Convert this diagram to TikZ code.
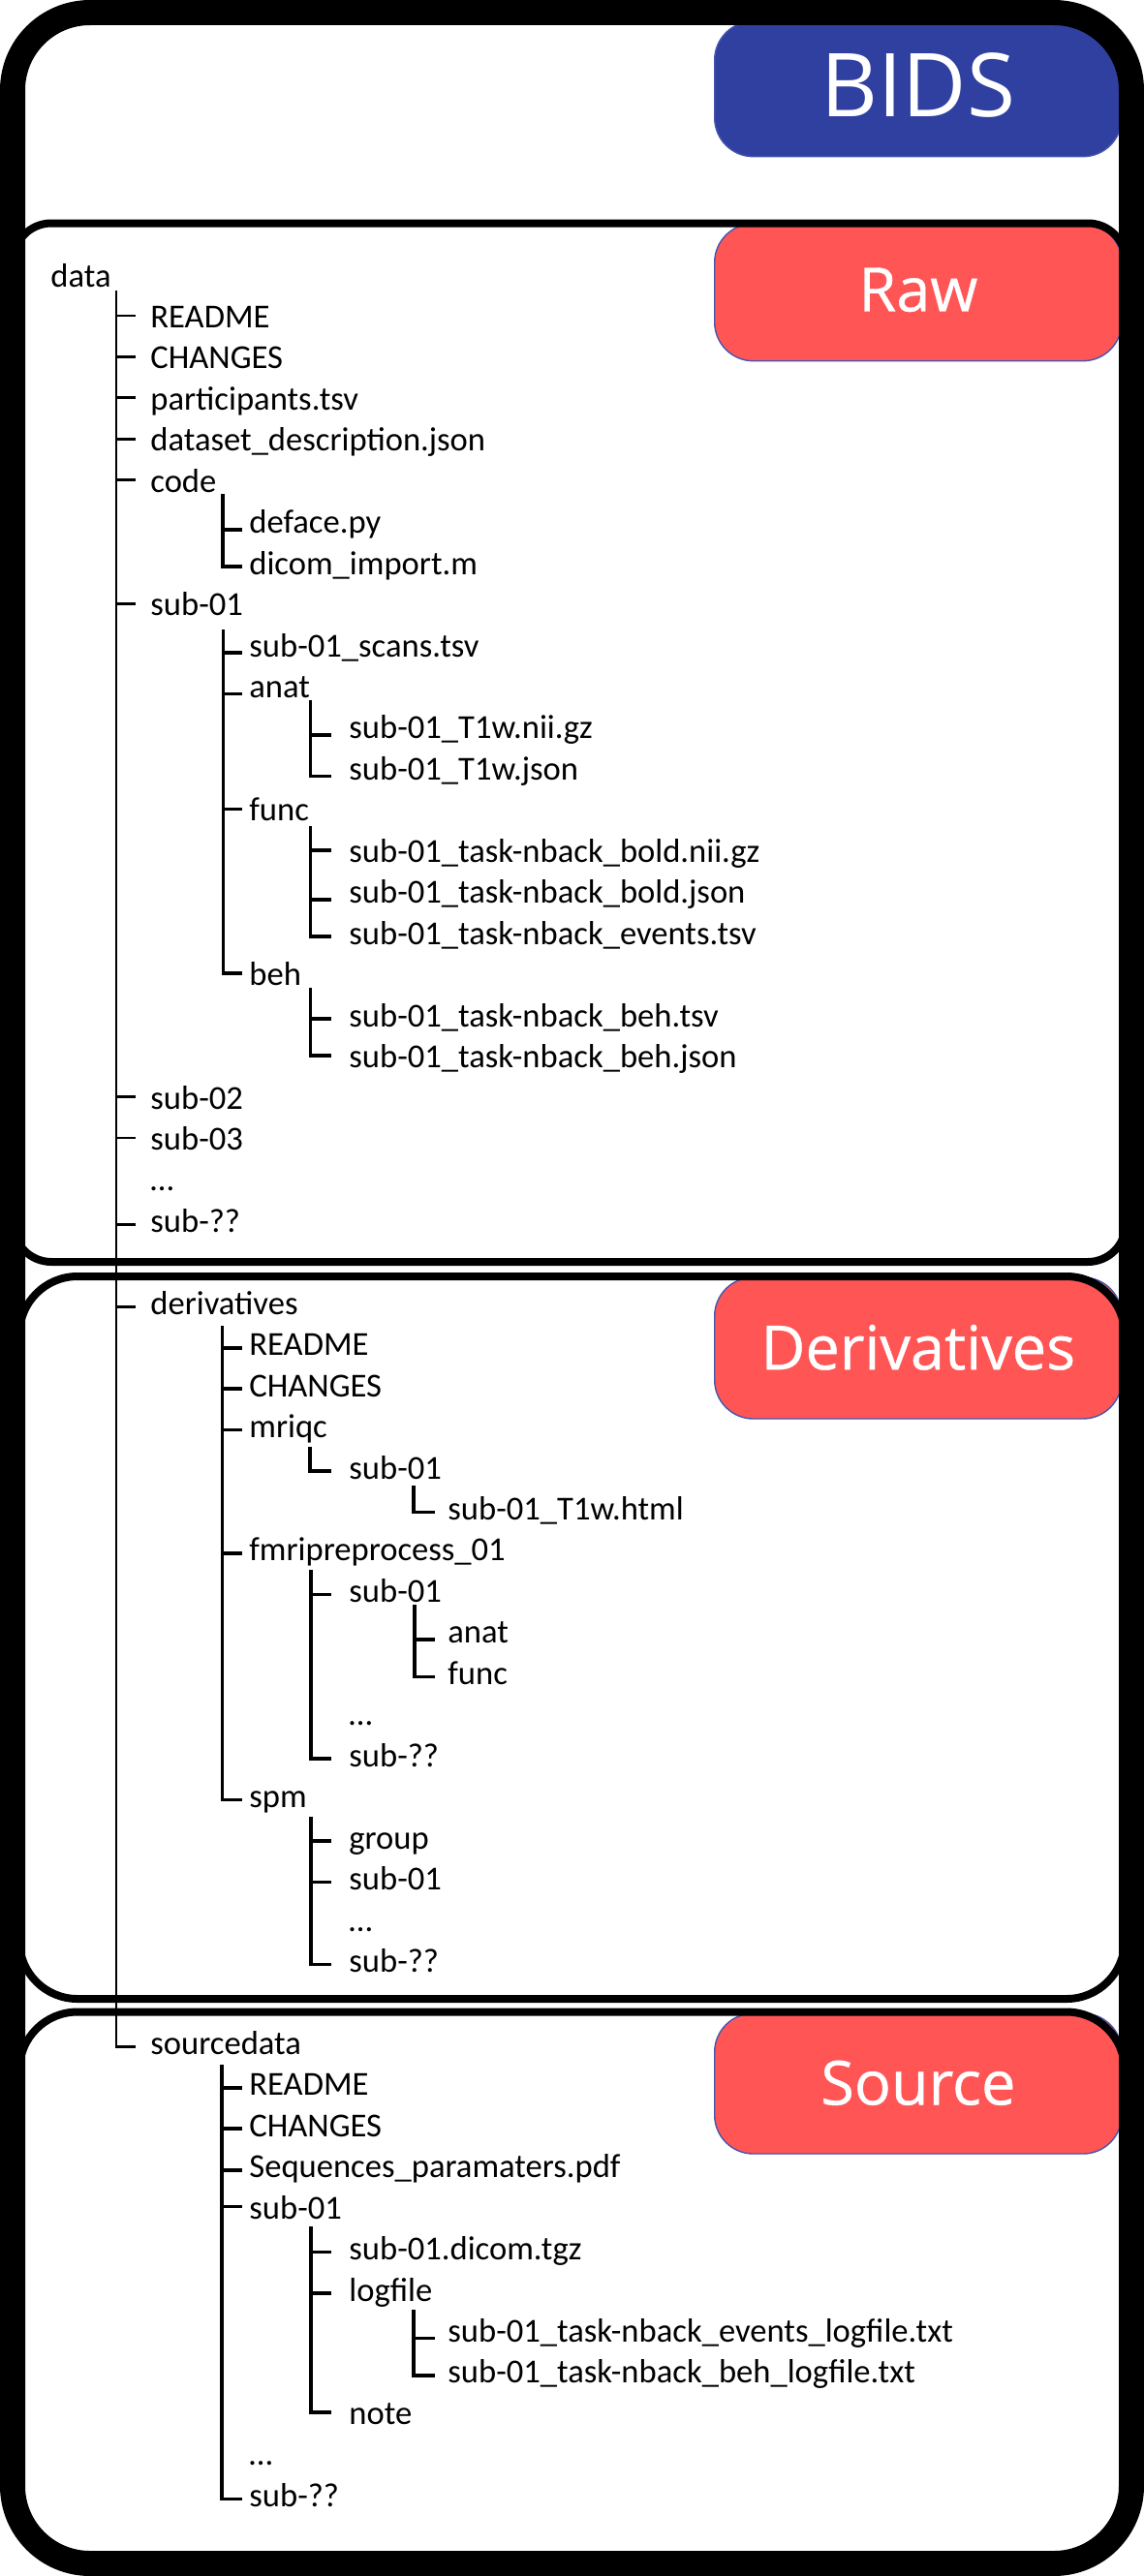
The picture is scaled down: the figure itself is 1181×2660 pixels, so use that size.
\documentclass[tikz,border=0pt]{standalone}
\usepackage{fontspec}
\setmainfont{Carlito}
\newfontfamily\labelfont{Open Sans}
\newfontfamily\labelboldfont[FakeBold=0.6]{Open Sans}
\definecolor{bidsblue}{RGB}{48,64,160}
\definecolor{rawred}{RGB}{255,85,85}
\definecolor{labline}{RGB}{70,85,175}
\newcommand\ent[5][]{\node[item,#1] (#2) at (#3,{296+42.45*#4}) {#5};}
\newcommand\kids[4]{%
  \draw[tree] (#1) |- ([xshift=-#2]#3.west);
  \foreach \c in {#4}{\draw[tree] (#1 |- \c.west) -- ([xshift=-#2]\c.west);}%
}
\begin{document}
\begin{tikzpicture}[x=0.5pt,y=-0.5pt,
  item/.style={anchor=base west, inner sep=0pt, font=\fontsize{17.3pt}{20pt}\selectfont, text height=8pt, text depth=0pt},
  hi/.style={text height=12.5pt},
  lo/.style={text height=4pt},
  tree/.style={line width=1.8pt},
  trunk/.style={line width=1.4pt},
  lab/.style={rectangle, rounded corners=20pt, inner sep=0pt, draw=labline, line width=0.7pt, text=white, minimum width=210.15pt, font=\labelboldfont\fontsize{31.5pt}{36pt}\selectfont},
  sect/.style={draw=black, line width=4pt},
  outerframe/.style={draw=black, line width=13pt, rounded corners=40pt}]
\useasboundingbox (0,0) rectangle (1181,2660);
\fill[white] (0,0) rectangle (1181,2660);

% section labels
\node[lab, fill=bidsblue, minimum height=69.85pt, font=\labelfont\fontsize{45.5pt}{50pt}\selectfont, text depth=4.4pt] (bids) at (947.85,91.85) {BIDS};
\node[lab, fill=rawred, minimum height=70.85pt, text depth=2.85pt] (raw) at (947.85,301.85) {Raw};
\node[lab, fill=rawred, minimum height=73pt, text depth=1pt] (derivlab) at (947.85,1392) {Derivatives};
\node[lab, fill=rawred, minimum height=72.5pt, text depth=1pt] (sourcelab) at (947.85,2151.5) {Source};

% section borders
\draw[sect, rounded corners=19.5pt] (14,230.5) rectangle (1162,1303);
\draw[sect, rounded corners=30pt] (20,1318) rectangle (1161,2064);
\draw[sect, rounded corners=30pt] (20,2077.5) rectangle (1161,2642);

% outer frame
\draw[outerframe] (13,13) rectangle (1168,2647);

% tree entries
\ent{data}{52}{0}{data}
\ent[hi]{r1}{155}{1}{README}
\ent[hi]{r2}{155}{2}{CHANGES}
\ent[hi]{r3}{155}{3}{participants.tsv}
\ent[hi]{r4}{155}{4}{dataset\_description.json}
\ent[hi]{code}{155}{5}{code}
\ent[lo]{deface}{257}{6}{deface.py}
\ent{dicom}{257}{7}{dicom\_import.m}
\ent[hi]{sub01}{155}{8}{sub-01}
\ent[lo]{scans}{257}{9}{sub-01\_scans.tsv}
\ent[lo]{anat}{257}{10}{anat}
\ent[lo]{t1nii}{360}{11}{sub-01\_T1w.nii.gz}
\ent[lo]{t1json}{360}{12}{sub-01\_T1w.json}
\ent[hi]{func}{257}{13}{func}
\ent[hi]{boldnii}{360}{14}{sub-01\_task-nback\_bold.nii.gz}
\ent[lo]{boldjson}{360}{15}{sub-01\_task-nback\_bold.json}
\ent{events}{360}{16}{sub-01\_task-nback\_events.tsv}
\ent[hi]{beh}{257}{17}{beh}
\ent{behtsv}{360}{18}{sub-01\_task-nback\_beh.tsv}
\ent[hi]{behjson}{360}{19}{sub-01\_task-nback\_beh.json}
\ent[hi]{sub02}{155}{20}{sub-02}
\ent[hi]{sub03}{155}{21}{sub-03}
\ent{rdots}{155}{22}{…}
\ent{rsubq}{155}{23}{sub-??}
\ent{deriv}{155}{25}{derivatives}
\ent{dreadme}{257}{26}{README}
\ent{dchanges}{257}{27}{CHANGES}
\ent{mriqc}{257}{28}{mriqc}
\ent{msub}{360}{29}{sub-01}
\ent{mhtml}{462}{30}{sub-01\_T1w.html}
\ent{fmri}{257}{31}{fmripreprocess\_01}
\ent{fsub}{360}{32}{sub-01}
\ent[lo]{fanat}{462}{33}{anat}
\ent{ffunc}{462}{34}{func}
\ent{fdots}{360}{35}{…}
\ent{fsubq}{360}{36}{sub-??}
\ent{spm}{257}{37}{spm}
\ent{sgroup}{360}{38}{group}
\ent{ssub}{360}{39}{sub-01}
\ent{sdots}{360}{40}{…}
\ent{ssubq}{360}{41}{sub-??}
\ent{src}{155}{43}{sourcedata}
\ent{sreadme}{257}{44}{README}
\ent{schanges}{257}{45}{CHANGES}
\ent{sseq}{257}{46}{Sequences\_paramaters.pdf}
\ent[hi]{ssub01}{257}{47}{sub-01}
\ent{sdicom}{360}{48}{sub-01.dicom.tgz}
\ent{slog}{360}{49}{logfile}
\ent[lo]{slogev}{462}{50}{sub-01\_task-nback\_events\_logfile.txt}
\ent{slogbeh}{462}{51}{sub-01\_task-nback\_beh\_logfile.txt}
\ent[hi]{snote}{360}{52}{note}
\ent{srdots}{257}{53}{…}
\ent{srsubq}{257}{54}{sub-??}

% branch tops
\coordinate (mainT) at (120,300);
\coordinate (codeT) at (230,510);
\coordinate (sub01T) at (230.5,650);
\coordinate (anatT) at (320.5,723);
\coordinate (funcT) at (320.5,853);
\coordinate (behT) at (320.5,1020);
\coordinate (derivT) at (229.5,1369);
\coordinate (mriqcT) at (320,1494);
\coordinate (msubT) at (427,1534);
\coordinate (fmriT) at (321,1621);
\coordinate (fsubT) at (428,1657);
\coordinate (spmT) at (321,1875.5);
\coordinate (srcT) at (229,2131.7);
\coordinate (ssubT) at (321,2299);
\coordinate (slogT) at (427,2385);

% trunk
\draw[trunk] (mainT) |- ([xshift=-7.5pt]src.west);
\foreach \c in {r1,r2,r3,r4,code,sub01,sub02,sub03,rsubq,deriv}{\draw[trunk] (mainT |- \c.west) -- ([xshift=-7.5pt]\c.west);}

% branches
\kids{codeT}{3.5pt}{dicom}{deface}
\kids{sub01T}{3.5pt}{beh}{scans,anat,func}
\kids{anatT}{9pt}{t1json}{t1nii}
\kids{funcT}{9pt}{events}{boldnii,boldjson}
\kids{behT}{9pt}{behjson}{behtsv}
\kids{derivT}{3.5pt}{spm}{dreadme,dchanges,mriqc,fmri}
\draw[tree] (mriqcT) |- ([xshift=-9pt]msub.west);
\draw[tree] (msubT) |- ([xshift=-6.5pt]mhtml.west);
\kids{fmriT}{9pt}{fsubq}{fsub}
\kids{fsubT}{6.5pt}{ffunc}{fanat}
\kids{spmT}{9pt}{ssubq}{sgroup,ssub}
\kids{srcT}{3.5pt}{srsubq}{sreadme,schanges,sseq,ssub01}
\kids{ssubT}{9pt}{snote}{sdicom,slog}
\kids{slogT}{6.5pt}{slogbeh}{slogev}
\end{tikzpicture}
\end{document}
